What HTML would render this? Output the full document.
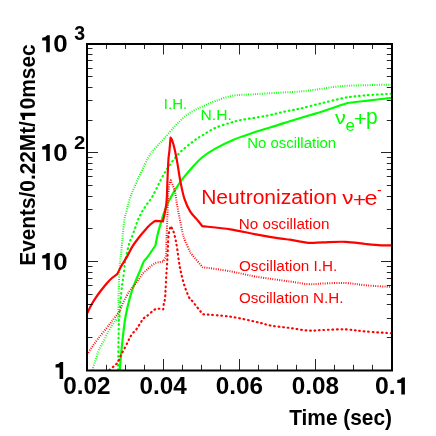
<!DOCTYPE html>
<html><head><meta charset="utf-8"><title>plot</title>
<style>html,body{margin:0;padding:0;background:#fff;}body{width:436px;height:436px;overflow:hidden;font-family:"Liberation Sans",sans-serif;}svg{display:block;will-change:transform;}</style>
</head><body>
<svg width="436" height="436" viewBox="0 0 436 436">
<rect width="436" height="436" fill="#ffffff"/>
<defs><clipPath id="cp"><rect x="87.0" y="44.0" width="305.0" height="326.5"/></clipPath></defs>
<g clip-path="url(#cp)" fill="none" stroke-linejoin="round" stroke-linecap="butt">
<path d="M92.30 370.00 C92.75 368.67 94.05 365.00 95.00 362.00 C95.95 359.00 97.00 354.75 98.00 352.00 C99.00 349.25 99.90 347.62 101.00 345.50 C102.10 343.38 103.43 341.50 104.60 339.30 C105.77 337.10 106.77 334.60 108.00 332.30 C109.23 330.00 110.73 327.47 112.00 325.50 C113.27 323.53 114.57 321.78 115.60 320.50 C116.63 319.22 117.77 318.25 118.20 317.80 C118.23 317.17 118.37 316.80 118.40 314.00 C118.43 311.20 118.25 307.67 118.40 301.00 C118.55 294.33 119.00 280.83 119.30 274.00 C119.60 267.17 119.92 263.17 120.20 260.00 C120.48 256.83 120.38 261.08 121.00 255.00 C121.62 248.92 122.97 230.87 123.90 223.50 C124.83 216.13 125.68 214.75 126.60 210.80 C127.52 206.85 128.17 203.57 129.40 199.80 C130.63 196.03 130.93 195.10 134.00 188.20 C137.07 181.30 144.13 165.18 147.80 158.40 C151.47 151.62 153.25 150.85 156.00 147.50 C158.75 144.15 161.08 141.92 164.30 138.30 C167.52 134.68 171.87 129.45 175.30 125.80 C178.73 122.15 181.78 118.97 184.90 116.40 C188.02 113.83 191.05 112.07 194.00 110.40 C196.95 108.73 199.05 107.97 202.60 106.40 C206.15 104.83 210.23 102.78 215.30 101.00 C220.37 99.22 226.72 96.82 233.00 95.70 C239.28 94.58 245.43 94.80 253.00 94.30 C260.57 93.80 270.57 93.17 278.40 92.70 C286.23 92.23 293.85 92.00 300.00 91.50 C306.15 91.00 308.55 90.58 315.30 89.70 C322.05 88.82 332.08 86.95 340.50 86.20 C348.92 85.45 357.22 85.47 365.80 85.20 C374.38 84.93 387.63 84.70 392.00 84.60" stroke="#00ff00" stroke-width="2.0" stroke-dasharray="0.9 1.4"/>
<path d="M118.00 370.00 C118.12 363.33 118.55 338.33 118.70 330.00 C118.85 321.67 118.75 322.52 118.90 320.00 C119.05 317.48 119.40 317.37 119.60 314.90 C119.80 312.43 119.87 308.35 120.10 305.20 C120.33 302.05 120.70 299.05 121.00 296.00 C121.30 292.95 121.67 289.18 121.90 286.90 C122.13 284.62 122.18 283.78 122.40 282.30 C122.62 280.82 122.88 280.22 123.20 278.00 C123.52 275.78 123.95 272.00 124.30 269.00 C124.65 266.00 124.45 264.37 125.30 260.00 C126.15 255.63 128.37 246.47 129.40 242.80 C130.43 239.13 130.63 240.18 131.50 238.00 C132.37 235.82 133.58 232.57 134.60 229.70 C135.62 226.83 136.43 223.67 137.60 220.80 C138.77 217.93 140.12 215.17 141.60 212.50 C143.08 209.83 144.65 207.55 146.50 204.80 C148.35 202.05 149.73 201.22 152.70 196.00 C155.67 190.78 160.08 180.42 164.30 173.50 C168.52 166.58 173.05 159.95 178.00 154.50 C182.95 149.05 189.90 144.02 194.00 140.80 C198.10 137.58 199.05 137.35 202.60 135.20 C206.15 133.05 210.67 129.97 215.30 127.90 C219.93 125.83 226.20 124.10 230.40 122.80 C234.60 121.50 234.60 121.25 240.50 120.10 C246.40 118.95 258.22 117.37 265.80 115.90 C273.38 114.43 280.30 112.52 286.00 111.30 C291.70 110.08 294.33 109.88 300.00 108.60 C305.67 107.32 313.25 105.25 320.00 103.60 C326.75 101.95 335.92 99.77 340.50 98.70 C345.08 97.63 346.33 97.45 347.50 97.20 C350.55 96.88 358.38 95.88 365.80 95.30 C373.22 94.72 387.63 93.97 392.00 93.70" stroke="#00ff00" stroke-width="2.15" stroke-dasharray="0.7 3.8" stroke-linecap="round"/>
<path d="M119.80 370.00 C120.17 365.83 121.08 353.67 122.00 345.00 C122.92 336.33 123.97 325.95 125.30 318.00 C126.63 310.05 128.43 303.05 130.00 297.30 C131.57 291.55 132.97 288.07 134.70 283.50 C136.43 278.93 139.13 272.98 140.40 269.90 C141.67 266.82 141.73 266.40 142.30 265.00 C142.87 263.60 142.85 262.95 143.80 261.50 C144.75 260.05 146.07 258.97 148.00 256.30 C149.93 253.63 154.17 247.30 155.40 245.50 C155.83 243.42 156.98 237.12 158.00 233.00 C159.02 228.88 160.23 224.90 161.50 220.80 C162.77 216.70 164.02 212.37 165.60 208.40 C167.18 204.43 168.47 201.50 171.00 197.00 C173.53 192.50 176.97 186.63 180.80 181.40 C184.63 176.17 190.37 169.67 194.00 165.60 C197.63 161.53 199.05 159.83 202.60 157.00 C206.15 154.17 210.23 151.45 215.30 148.60 C220.37 145.75 226.72 142.53 233.00 139.90 C239.28 137.27 245.43 135.30 253.00 132.80 C260.57 130.30 272.23 126.83 278.40 124.90 C284.57 122.97 283.85 123.08 290.00 121.20 C296.15 119.32 310.30 115.10 315.30 113.60 C320.30 112.10 315.80 113.58 320.00 112.20 C324.20 110.82 335.92 106.83 340.50 105.30 C345.08 103.77 346.33 103.38 347.50 103.00 C350.55 102.63 358.38 101.67 365.80 100.80 C373.22 99.93 387.63 98.30 392.00 97.80" stroke="#00ff00" stroke-width="2.2"/>
<path d="M87.00 354.50 C87.83 353.25 90.18 349.58 92.00 347.00 C93.82 344.42 95.53 342.08 97.90 339.00 C100.27 335.92 103.60 331.82 106.20 328.50 C108.80 325.18 111.28 321.98 113.50 319.10 C115.72 316.22 117.75 314.25 119.50 311.20 C121.25 308.15 122.35 304.12 124.00 300.80 C125.65 297.48 127.73 293.85 129.40 291.30 C131.07 288.75 132.40 287.55 134.00 285.50 C135.60 283.45 137.50 281.00 139.00 279.00 C140.50 277.00 141.53 275.17 143.00 273.50 C144.47 271.83 146.38 270.32 147.80 269.00 C149.22 267.68 150.15 266.62 151.50 265.60 C152.85 264.58 154.48 263.48 155.90 262.90 C157.32 262.32 158.78 262.33 160.00 262.10 C161.22 261.87 162.67 261.60 163.20 261.50 C163.40 261.08 163.93 260.08 164.40 259.00 C164.87 257.92 165.65 258.17 166.00 255.00 C166.35 251.83 166.28 246.00 166.50 240.00 C166.72 234.00 167.05 225.67 167.30 219.00 C167.55 212.33 167.73 205.33 168.00 200.00 C168.27 194.67 168.43 190.28 168.90 187.00 C169.37 183.72 170.48 181.42 170.80 180.30 C171.45 182.02 173.88 187.98 174.70 190.60 C175.52 193.22 175.32 193.70 175.70 196.00 C176.08 198.30 176.38 200.90 177.00 204.40 C177.62 207.90 178.50 212.37 179.40 217.00 C180.30 221.63 181.42 228.13 182.40 232.20 C183.38 236.27 184.03 238.15 185.30 241.40 C186.57 244.65 188.85 249.43 190.00 251.70 C191.15 253.97 190.08 252.42 192.20 255.00 C194.32 257.58 200.95 265.17 202.70 267.20 C207.33 267.88 221.65 269.73 230.50 271.30 C239.35 272.87 245.88 274.90 255.80 276.60 C265.72 278.30 281.22 280.23 290.00 281.50 C298.78 282.77 303.03 283.87 308.50 284.20 C313.97 284.53 316.62 283.70 322.80 283.50 C328.98 283.30 338.43 282.70 345.60 283.00 C352.77 283.30 358.07 284.63 365.80 285.30 C373.53 285.97 387.63 286.72 392.00 287.00" stroke="#ff0000" stroke-width="2.0" stroke-dasharray="0.9 1.4"/>
<path d="M109.40 370.00 C109.98 369.50 111.75 368.00 112.90 367.00 C114.05 366.00 115.28 365.17 116.30 364.00 C117.32 362.83 118.30 361.33 119.00 360.00 C119.70 358.67 119.57 357.95 120.50 356.00 C121.43 354.05 123.35 350.73 124.60 348.30 C125.85 345.87 127.10 343.23 128.00 341.40 C128.90 339.57 129.20 338.67 130.00 337.30 C130.80 335.93 131.80 334.45 132.80 333.20 C133.80 331.95 135.08 330.95 136.00 329.80 C136.92 328.65 137.47 327.57 138.30 326.30 C139.13 325.03 140.22 323.45 141.00 322.20 C141.78 320.95 142.00 319.83 143.00 318.80 C144.00 317.77 145.07 317.53 147.00 316.00 C148.93 314.47 152.63 310.82 154.60 309.60 C156.57 308.38 157.37 308.75 158.80 308.70 C160.23 308.65 162.47 309.20 163.20 309.30 C163.30 308.42 163.50 305.78 163.80 304.00 C164.10 302.22 164.70 301.10 165.00 298.60 C165.30 296.10 165.38 292.88 165.60 289.00 C165.82 285.12 166.03 279.80 166.30 275.30 C166.57 270.80 166.95 266.22 167.20 262.00 C167.45 257.78 167.57 254.50 167.80 250.00 C168.03 245.50 168.13 238.97 168.60 235.00 C169.07 231.03 170.27 227.67 170.60 226.20 C171.05 227.00 172.47 228.75 173.30 231.00 C174.13 233.25 174.93 236.63 175.60 239.70 C176.27 242.77 176.73 245.68 177.30 249.40 C177.87 253.12 178.42 258.27 179.00 262.00 C179.58 265.73 179.93 267.98 180.80 271.80 C181.67 275.62 182.83 280.65 184.20 284.90 C185.57 289.15 187.62 294.55 189.00 297.30 C190.38 300.05 190.22 298.58 192.50 301.40 C194.78 304.22 201.00 312.07 202.70 314.20 C207.33 314.62 221.65 315.43 230.50 316.70 C239.35 317.97 249.05 320.32 255.80 321.80 C262.55 323.28 265.30 324.57 271.00 325.60 C276.70 326.63 283.75 327.17 290.00 328.00 C296.25 328.83 303.03 330.27 308.50 330.60 C313.97 330.93 316.62 330.20 322.80 330.00 C328.98 329.80 338.43 329.15 345.60 329.40 C352.77 329.65 358.07 330.85 365.80 331.50 C373.53 332.15 387.63 333.00 392.00 333.30" stroke="#ff0000" stroke-width="2.15" stroke-dasharray="0.7 3.8" stroke-linecap="round"/>
<path d="M87.00 313.80 C87.67 312.42 89.58 308.12 91.00 305.50 C92.42 302.88 93.83 300.60 95.50 298.10 C97.17 295.60 99.10 292.98 101.00 290.50 C102.90 288.02 105.07 285.28 106.90 283.20 C108.73 281.12 110.27 279.53 112.00 278.00 C113.73 276.47 116.42 274.67 117.30 274.00 C117.97 272.67 119.75 268.77 121.30 266.00 C122.85 263.23 124.48 261.07 126.60 257.40 C128.72 253.73 130.47 249.07 134.00 244.00 C137.53 238.93 144.25 230.87 147.80 227.00 C151.35 223.13 154.05 221.83 155.30 220.80 L162.90 221.40 C163.18 220.17 164.05 216.73 164.60 214.00 C165.15 211.27 165.82 208.00 166.20 205.00 C166.58 202.00 166.68 200.28 166.90 196.00 C167.12 191.72 167.25 185.30 167.50 179.30 C167.75 173.30 168.07 164.88 168.40 160.00 C168.73 155.12 169.13 153.75 169.50 150.00 C169.87 146.25 170.42 139.58 170.60 137.50 C170.90 138.08 171.72 139.00 172.40 141.00 C173.08 143.00 173.83 145.60 174.70 149.50 C175.57 153.40 176.65 159.07 177.60 164.40 C178.55 169.73 179.27 175.78 180.40 181.50 C181.53 187.22 182.78 193.73 184.40 198.70 C186.02 203.67 187.80 207.58 190.10 211.30 C192.40 215.02 196.17 218.52 198.20 221.00 C200.23 223.48 201.62 225.33 202.30 226.20 C207.00 226.72 221.58 227.93 230.50 229.30 C239.42 230.67 247.38 232.83 255.80 234.40 C264.22 235.97 275.30 237.83 281.00 238.70 C286.70 239.57 285.42 238.92 290.00 239.60 C294.58 240.28 303.03 242.35 308.50 242.80 C313.97 243.25 316.62 242.47 322.80 242.30 C328.98 242.13 338.43 241.52 345.60 241.80 C352.77 242.08 359.90 243.42 365.80 244.00 C371.70 244.58 376.63 245.08 381.00 245.30 C385.37 245.52 390.17 245.30 392.00 245.30" stroke="#ff0000" stroke-width="2.2"/>
</g>
<path d="M87.00 337.50 h5.50 M392.00 337.50 h-5.20 M87.00 318.50 h5.50 M392.00 318.50 h-5.20 M87.00 304.50 h5.50 M392.00 304.50 h-5.20 M87.00 294.50 h5.50 M392.00 294.50 h-5.20 M87.00 285.50 h5.50 M392.00 285.50 h-5.20 M87.00 278.50 h5.50 M392.00 278.50 h-5.20 M87.00 272.50 h5.50 M392.00 272.50 h-5.20 M87.00 266.50 h5.50 M392.00 266.50 h-5.20 M87.00 261.50 h11.00 M392.00 261.50 h-11.00 M87.00 228.50 h5.50 M392.00 228.50 h-5.20 M87.00 209.50 h5.50 M392.00 209.50 h-5.20 M87.00 196.50 h5.50 M392.00 196.50 h-5.20 M87.00 185.50 h5.50 M392.00 185.50 h-5.20 M87.00 176.50 h5.50 M392.00 176.50 h-5.20 M87.00 169.50 h5.50 M392.00 169.50 h-5.20 M87.00 163.50 h5.50 M392.00 163.50 h-5.20 M87.00 157.50 h5.50 M392.00 157.50 h-5.20 M87.00 152.50 h11.00 M392.00 152.50 h-11.00 M87.00 120.50 h5.50 M392.00 120.50 h-5.20 M87.00 100.50 h5.50 M392.00 100.50 h-5.20 M87.00 87.50 h5.50 M392.00 87.50 h-5.20 M87.00 76.50 h5.50 M392.00 76.50 h-5.20 M87.00 68.50 h5.50 M392.00 68.50 h-5.20 M87.00 60.50 h5.50 M392.00 60.50 h-5.20 M87.00 54.50 h5.50 M392.00 54.50 h-5.20 M87.00 48.50 h5.50 M392.00 48.50 h-5.20 M106.50 370.50 v-5.70 M106.50 44.00 v5.00 M125.50 370.50 v-5.70 M125.50 44.00 v5.00 M144.50 370.50 v-5.70 M144.50 44.00 v5.00 M163.50 370.50 v-11.50 M163.50 44.00 v10.50 M182.50 370.50 v-5.70 M182.50 44.00 v5.00 M201.50 370.50 v-5.70 M201.50 44.00 v5.00 M220.50 370.50 v-5.70 M220.50 44.00 v5.00 M239.50 370.50 v-11.50 M239.50 44.00 v10.50 M258.50 370.50 v-5.70 M258.50 44.00 v5.00 M277.50 370.50 v-5.70 M277.50 44.00 v5.00 M296.50 370.50 v-5.70 M296.50 44.00 v5.00 M315.50 370.50 v-11.50 M315.50 44.00 v10.50 M334.50 370.50 v-5.70 M334.50 44.00 v5.00 M353.50 370.50 v-5.70 M353.50 44.00 v5.00 M372.50 370.50 v-5.70 M372.50 44.00 v5.00" stroke="#000" stroke-width="0.85" fill="none"/>
<rect x="87.00" y="44.00" width="305.00" height="326.50" fill="none" stroke="#000" stroke-width="2"/>
<text transform="translate(63.33 394.20) scale(1.0561 1)" font-size="23" fill="#000" font-weight="bold" font-family="Liberation Sans, sans-serif">0.02</text>
<text transform="translate(139.60 394.20) scale(1.0561 1)" font-size="23" fill="#000" font-weight="bold" font-family="Liberation Sans, sans-serif">0.04</text>
<text transform="translate(215.82 394.20) scale(1.0561 1)" font-size="23" fill="#000" font-weight="bold" font-family="Liberation Sans, sans-serif">0.06</text>
<text transform="translate(291.81 394.20) scale(1.0561 1)" font-size="23" fill="#000" font-weight="bold" font-family="Liberation Sans, sans-serif">0.08</text>
<text transform="translate(375.01 394.30) scale(1.0795 1)" font-size="23" fill="#000" font-weight="bold" font-family="Liberation Sans, sans-serif">0.</text>
<path d="M404.90 394.50 L404.90 377.50 L402.20 377.50 Q401.00 379.80 397.30 380.00 L397.30 382.90 L401.30 382.90 L401.30 394.50 Z" fill="#000"/>
<path d="M49.80 52.20 L49.80 35.20 L47.10 35.20 Q45.90 37.50 42.20 37.70 L42.20 40.60 L46.20 40.60 L46.20 52.20 Z" fill="#000"/>
<text transform="translate(53.36 52.10) scale(1.1259 1)" font-size="23" fill="#000" font-weight="bold" font-family="Liberation Sans, sans-serif">0</text>
<path d="M49.80 161.10 L49.80 144.10 L47.10 144.10 Q45.90 146.40 42.20 146.60 L42.20 149.50 L46.20 149.50 L46.20 161.10 Z" fill="#000"/>
<text transform="translate(53.36 161.00) scale(1.1259 1)" font-size="23" fill="#000" font-weight="bold" font-family="Liberation Sans, sans-serif">0</text>
<path d="M49.80 270.00 L49.80 253.00 L47.10 253.00 Q45.90 255.30 42.20 255.50 L42.20 258.40 L46.20 258.40 L46.20 270.00 Z" fill="#000"/>
<text transform="translate(53.36 269.90) scale(1.1259 1)" font-size="23" fill="#000" font-weight="bold" font-family="Liberation Sans, sans-serif">0</text>
<path d="M63.15 379.00 L63.15 362.00 L60.45 362.00 Q59.25 364.30 55.55 364.50 L55.55 367.40 L59.55 367.40 L59.55 379.00 Z" fill="#000"/>
<text transform="translate(74.36 40.30) scale(1.0102 1)" font-size="19.3" fill="#000" font-weight="bold" font-family="Liberation Sans, sans-serif">3</text>
<text transform="translate(74.09 148.50) scale(1.0860 1)" font-size="18.8" fill="#000" font-weight="bold" font-family="Liberation Sans, sans-serif">2</text>
<text transform="translate(289.19 425.20) scale(0.9402 1)" font-size="22.2" fill="#000" font-weight="bold" font-family="Liberation Sans, sans-serif">Time (sec)</text>
<g transform="translate(35.4 264.3) rotate(-90)">
<text transform="translate(-1.41 0.00) scale(0.9468 1)" font-size="22.0" fill="#000" font-weight="bold" font-family="Liberation Sans, sans-serif">Events/0.22Mt/</text>
<path d="M151.50 0.00 L151.50 -15.10 L149.10 -15.10 Q148.03 -13.06 144.20 -12.88 L144.20 -10.30 L148.30 -10.30 L148.30 0.00 Z" fill="#000"/>
<text transform="translate(154.97 0.00) scale(0.9479 1)" font-size="22.0" fill="#000" font-weight="bold" font-family="Liberation Sans, sans-serif">0msec</text>
</g>
<text transform="translate(163.81 109.40) scale(0.9683 1)" font-size="15.5" fill="#00ff00" font-family="Liberation Sans, sans-serif">I.H.</text>
<text transform="translate(200.51 120.00) scale(1.0097 1)" font-size="15.5" fill="#00ff00" font-family="Liberation Sans, sans-serif">N.H.</text>
<text transform="translate(247.17 148.10) scale(0.9655 1)" font-size="15.5" fill="#00ff00" font-family="Liberation Sans, sans-serif">No oscillation</text>
<text transform="translate(238.84 229.00) scale(0.9833 1)" font-size="15.5" fill="#ff0000" font-family="Liberation Sans, sans-serif">No oscillation</text>
<text transform="translate(238.97 270.50) scale(0.9850 1)" font-size="15.5" fill="#ff0000" font-family="Liberation Sans, sans-serif">Oscillation I.H.</text>
<text transform="translate(238.98 303.40) scale(0.9784 1)" font-size="15.5" fill="#ff0000" font-family="Liberation Sans, sans-serif">Oscillation N.H.</text>
<text transform="translate(201.16 204.00) scale(1.0134 1)" font-size="20.8" fill="#ff0000" font-family="Liberation Sans, sans-serif">Neutronization</text>
<text transform="translate(342.20 204.40) scale(1.1961 1)" font-size="18.8" fill="#ff0000" font-family="Liberation Sans, sans-serif">ν</text>
<text transform="translate(352.89 207.00) scale(1.0706 1)" font-size="20.8" fill="#ff0000" font-family="Liberation Sans, sans-serif">+</text>
<text transform="translate(364.61 204.50) scale(1.1252 1)" font-size="20.8" fill="#ff0000" font-family="Liberation Sans, sans-serif">e</text>
<text transform="translate(376.97 194.80) scale(0.9046 1)" font-size="15.5" fill="#ff0000" font-family="Liberation Sans, sans-serif">-</text>
<text transform="translate(335.10 124.00) scale(1.1320 1)" font-size="19.1" fill="#00ff00" font-family="Liberation Sans, sans-serif">ν</text>
<text transform="translate(345.38 131.00) scale(1.0638 1)" font-size="16" fill="#00ff00" font-family="Liberation Sans, sans-serif">e</text>
<text transform="translate(353.79 125.90) scale(1.0706 1)" font-size="20.8" fill="#00ff00" font-family="Liberation Sans, sans-serif">+</text>
<text transform="translate(365.93 123.50) scale(0.9958 1)" font-size="21.2" fill="#00ff00" font-family="Liberation Sans, sans-serif">p</text>
</svg>
</body></html>
